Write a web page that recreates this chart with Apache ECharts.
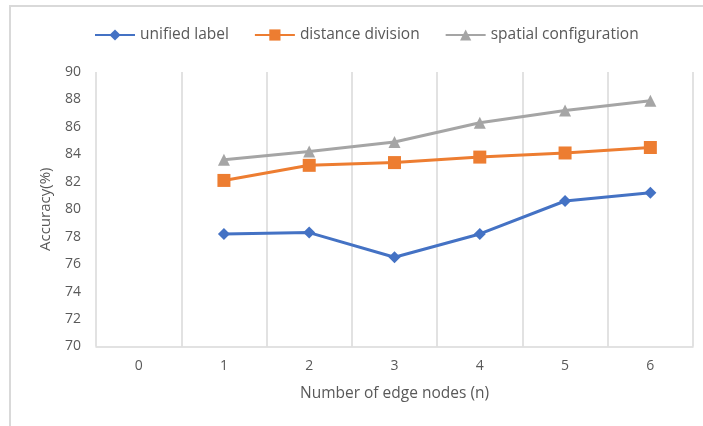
<!DOCTYPE html>
<html>
<head>
<meta charset="utf-8">
<script src="https://cdn.jsdelivr.net/npm/echarts@6/dist/echarts.min.js"></script>
<style>
  html, body { margin: 0; padding: 0; background: #fff; }
  #chart { width: 703px; height: 426px; }
</style>
</head>
<body>
<div id="chart"></div>
<script>
// Edge-node counts on the x axis
const categories = ['0', '1', '2', '3', '4', '5', '6'];

// Accuracy (%) per labelling strategy; no measurement at 0 nodes
const unifiedLabel = [null, 78.2, 78.3, 76.5, 78.2, 80.6, 81.2];
const distanceDivision = [null, 82.1, 83.2, 83.4, 83.8, 84.1, 84.5];
const spatialConfiguration = [null, 83.6, 84.2, 84.9, 86.3, 87.2, 87.9];

const seriesNames = ['unified label', 'distance division', 'spatial configuration'];

const FONT = "'Open Sans', 'Noto Sans', sans-serif";
const TEXT = '#595959';
const GRID = '#d9d9d9';

const chart = echarts.init(document.getElementById('chart'), null, { renderer: 'canvas' });

function lineSeries(name, data, color, symbol, size) {
  return {
    name: name,
    type: 'line',
    data: data,
    symbol: symbol,
    symbolSize: size,
    connectNulls: false,
    lineStyle: { color: color, width: 3 },
    itemStyle: { color: color },
    emphasis: { disabled: true },
    z: 3
  };
}

chart.setOption({
  animation: false,
  backgroundColor: '#fff',
  textStyle: { fontFamily: FONT },
  graphic: [{
    type: 'rect',
    shape: { x: 10, y: 6, width: 800, height: 500 },
    style: { fill: 'none', stroke: GRID, lineWidth: 2 },
    silent: true
  }],
  legend: {
    top: 22,
    left: 89,
    itemWidth: 40,
    itemHeight: 14,
    itemGap: 25,
    textStyle: { color: TEXT, fontSize: 15.5, fontFamily: FONT },
    data: seriesNames
  },
  grid: { left: 96, right: 10, top: 72, bottom: 79.5, containLabel: false },
  xAxis: {
    type: 'category',
    data: categories,
    boundaryGap: true,
    name: 'Number of edge nodes (n)',
    nameLocation: 'middle',
    nameGap: 39,
    nameTextStyle: { color: TEXT, fontSize: 15.5, fontFamily: FONT },
    axisLine: { show: true, lineStyle: { color: GRID, width: 1.5 } },
    axisTick: { show: false },
    axisLabel: { color: TEXT, fontSize: 14, margin: 13, fontFamily: FONT },
    splitLine: { show: true, lineStyle: { color: GRID, width: 1.5 } }
  },
  yAxis: {
    type: 'value',
    min: 70,
    max: 90,
    interval: 2,
    name: 'Accuracy(%)',
    nameLocation: 'middle',
    nameRotate: 90,
    nameGap: 43,
    nameTextStyle: { color: TEXT, fontSize: 15, fontFamily: FONT },
    axisLine: { show: false },
    axisTick: { show: false },
    axisLabel: { color: TEXT, fontSize: 14, margin: 15, fontFamily: FONT },
    splitLine: { show: false }
  },
  series: [
    lineSeries(seriesNames[0], unifiedLabel, '#4472C4', 'diamond', 12),
    lineSeries(seriesNames[1], distanceDivision, '#ED7D31', 'rect', 13),
    lineSeries(seriesNames[2], spatialConfiguration, '#A5A5A5', 'triangle', 12)
  ]
});
</script>
</body>
</html>
